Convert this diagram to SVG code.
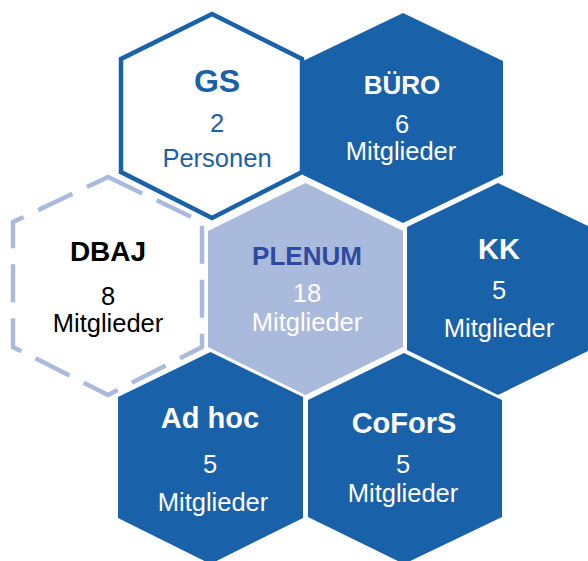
<svg xmlns="http://www.w3.org/2000/svg" width="588" height="561" viewBox="0 0 588 561">
<style>
.dark{fill:#1961A9;stroke:none}
.light{fill:#AABADC;stroke:none}
.outline{fill:#FFFFFF;stroke:#1961A9;stroke-width:4.5;stroke-linejoin:miter}
.dashed{fill:#FFFFFF;stroke:#AABADC;stroke-width:4.5;stroke-dasharray:38 16}
text{font-family:"Liberation Sans",Arial,sans-serif;text-anchor:middle}
.t{font-weight:bold;font-size:28px}
.b{font-size:25.5px}
.w{fill:#FFFFFF}
.g{fill:#1961A9}
.k{fill:#000000}
.p{fill:#2E4B9F}
</style>
<rect width="588" height="561" fill="#FFFFFF"/>
<g id="connectors"/>
<g id="node-gs">
<polygon class="outline" points="212,14 302,59 302,172 212,218 121,172 121,59"/>
<text class="t g" x="217" y="92" style="font-size:32px">GS</text>
<text class="b g" x="217" y="132">2</text>
<text class="b g" x="217" y="167">Personen</text>
</g>
<g id="node-buero">
<polygon class="dark" points="403,13 503,61 503,175 403,223 303,175 303,61"/>
<text class="t w" x="402" y="94" style="font-size:26px">BÜRO</text>
<text class="b w" x="402" y="133">6</text>
<text class="b w" x="401" y="160">Mitglieder</text>
</g>
<g id="node-dbaj">
<polygon class="dashed" points="108,177 202,222 202,347 108,395 13,347 13,222"/>
<text class="t k" x="108" y="261">DBAJ</text>
<text class="b k" x="108" y="305">8</text>
<text class="b k" x="108" y="332">Mitglieder</text>
</g>
<g id="node-plenum">
<polygon class="light" points="305.5,183 403,231 403,347 305.5,395 208,347 208,231"/>
<text class="t p" x="307" y="265" style="font-size:26px">PLENUM</text>
<text class="b w" x="307" y="302">18</text>
<text class="b w" x="307" y="331">Mitglieder</text>
</g>
<g id="node-kk">
<polygon class="dark" points="498,183 590,227 590,350 498,395 407,350 407,227"/>
<text class="t w" x="499" y="259" style="font-size:29px">KK</text>
<text class="b w" x="499" y="299">5</text>
<text class="b w" x="499" y="337">Mitglieder</text>
</g>
<g id="node-adhoc">
<polygon class="dark" points="210.5,352 303,397 303,518 210.5,564 118,518 118,397"/>
<text class="t w" x="210" y="428" style="font-size:29px">Ad hoc</text>
<text class="b w" x="210" y="473">5</text>
<text class="b w" x="213" y="511">Mitglieder</text>
</g>
<g id="node-cofors">
<polygon class="dark" points="404,353 502,400 502,517 404,564 308,517 308,400"/>
<text class="t w" x="404" y="433" style="font-size:29px">CoForS</text>
<text class="b w" x="403" y="473">5</text>
<text class="b w" x="403" y="502">Mitglieder</text>
</g>
</svg>
